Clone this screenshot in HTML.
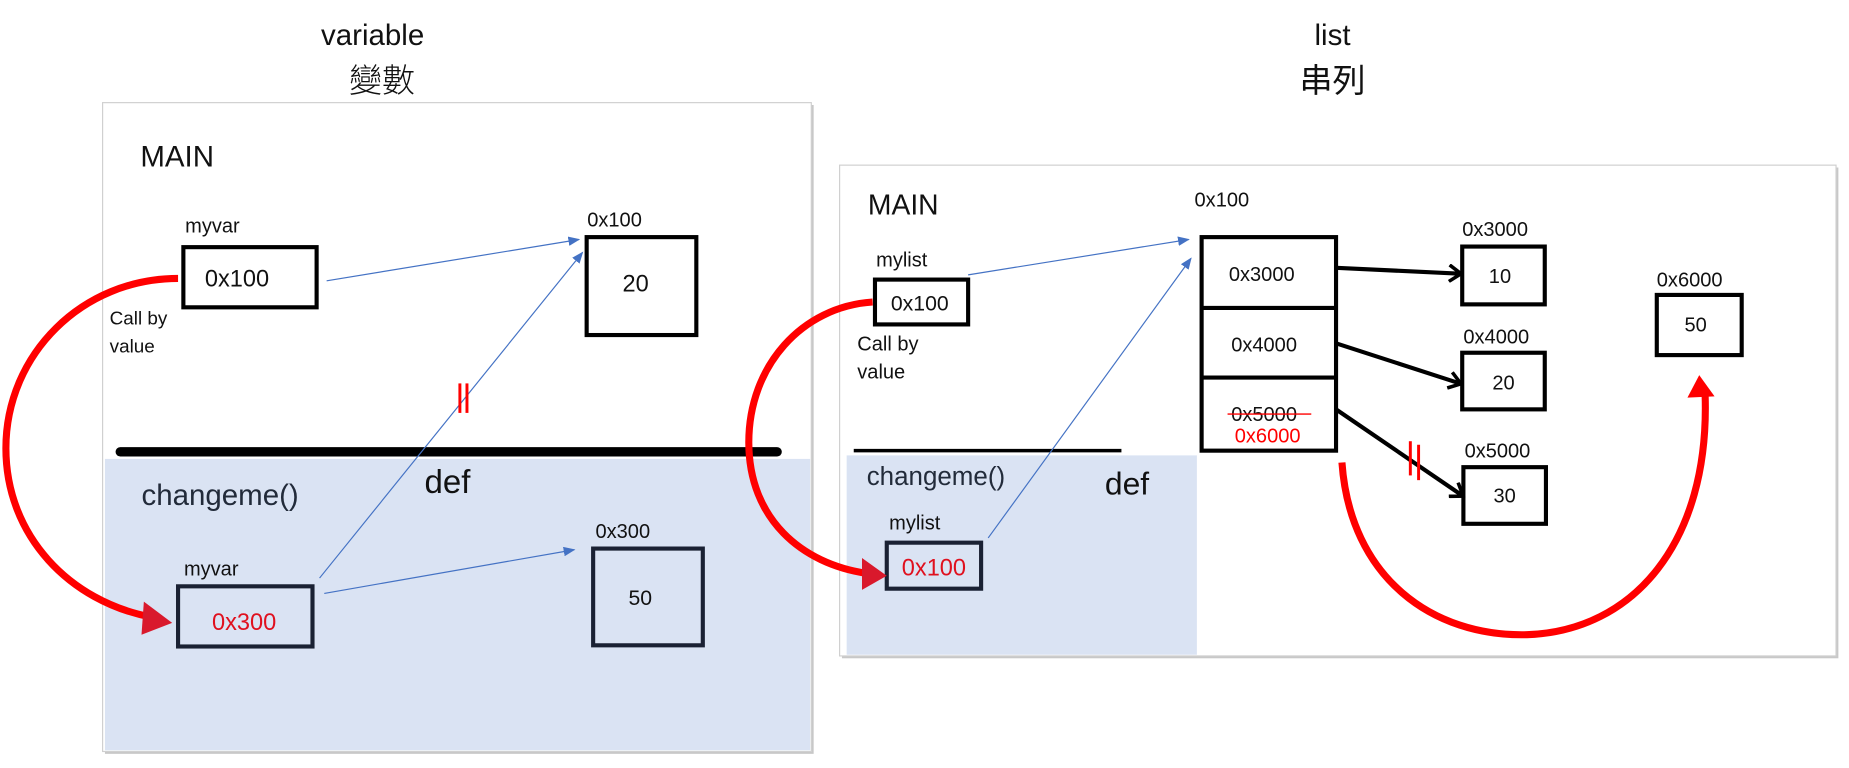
<!DOCTYPE html>
<html><head><meta charset="utf-8"><style>
html,body{margin:0;padding:0;background:#fff;width:1849px;height:768px;overflow:hidden}
svg{display:block}
text{font-family:"Liberation Sans","Noto Sans CJK TC",sans-serif;fill:#111}
</style></head><body>
<svg width="1849" height="768" viewBox="0 0 1568 651" preserveAspectRatio="none">
<defs>
<marker id="ba" markerWidth="10" markerHeight="8" refX="9" refY="4" orient="auto" markerUnits="userSpaceOnUse"><path d="M0,0 L10,4 L0,8 z" fill="#4472c4"/></marker>
<marker id="ka" markerWidth="14" markerHeight="16" refX="11" refY="8" orient="auto" markerUnits="userSpaceOnUse"><path d="M2,1 L12,8 L2,15" fill="none" stroke="#000" stroke-width="3"/></marker>
</defs>
<!-- titles -->
<text x="316" y="38" font-size="25" text-anchor="middle">variable</text>
<text x="324" y="78" font-size="28" text-anchor="middle" font-weight="300">變數</text>
<text x="1130" y="38" font-size="25" text-anchor="middle">list</text>
<text x="1130" y="78" font-size="28" text-anchor="middle">串列</text>

<!-- left panel -->
<g>
<rect x="89" y="89" width="601" height="550" fill="#c8c8c8"/>
<rect x="87" y="87" width="601" height="550" fill="#fff" stroke="#d0d0d0"/>
<rect x="89" y="389" width="598" height="247" fill="#dae3f3"/>
<line x1="102" y1="383" x2="659" y2="383" stroke="#000" stroke-width="8" stroke-linecap="round"/>
<text x="119" y="141" font-size="25">MAIN</text>
<text x="157" y="197" font-size="17">myvar</text>
<rect x="155.5" y="209.5" width="113" height="51" fill="#fff" stroke="#000" stroke-width="3.5"/>
<text x="201" y="243" font-size="20" text-anchor="middle">0x100</text>
<text x="498" y="192" font-size="17">0x100</text>
<rect x="497.5" y="201" width="93" height="83" fill="#fff" stroke="#000" stroke-width="3.5"/>
<text x="539" y="247" font-size="20" text-anchor="middle">20</text>
<line x1="277" y1="238" x2="491" y2="203" stroke="#4472c4" stroke-width="1" marker-end="url(#ba)"/>
<line x1="271" y1="490" x2="494" y2="214" stroke="#4472c4" stroke-width="1" marker-end="url(#ba)"/>
<line x1="390" y1="325" x2="390" y2="350" stroke="#f00" stroke-width="2.5"/>
<line x1="396" y1="325" x2="396" y2="350" stroke="#f00" stroke-width="2.5"/>
<text x="93" y="275" font-size="16">Call by</text>
<text x="93" y="299" font-size="16">value</text>
<text x="120" y="428" font-size="25" fill="#222b3a" style="fill:#222b3a">changeme()</text>
<text x="360" y="418" font-size="28">def</text>
<text x="156" y="488" font-size="17">myvar</text>
<rect x="151" y="497" width="114" height="51" fill="none" stroke="#1a2133" stroke-width="3.5"/>
<text x="207" y="534" font-size="20" text-anchor="middle" style="fill:#e0101e">0x300</text>
<text x="505" y="456" font-size="17">0x300</text>
<rect x="503" y="465" width="93" height="82" fill="none" stroke="#1a2133" stroke-width="3.5"/>
<text x="543" y="513" font-size="18" text-anchor="middle">50</text>
<line x1="275" y1="503" x2="487" y2="466" stroke="#4472c4" stroke-width="1" marker-end="url(#ba)"/>
</g>
<path d="M151,236 C70,236 5,300 5,380 C5,455 60,510 128,523" fill="none" stroke="#f00" stroke-width="6"/>
<path d="M122,510 L146,528 L120,538 z" fill="#d9192c"/>

<!-- right panel -->
<g>
<rect x="714" y="142" width="845" height="416" fill="#c8c8c8"/>
<rect x="712" y="140" width="845" height="416" fill="#fff" stroke="#d0d0d0"/>
<rect x="718" y="386" width="297" height="169" fill="#dae3f3"/>
<line x1="724" y1="382" x2="951" y2="382" stroke="#000" stroke-width="3"/>
<text x="736" y="182" font-size="24">MAIN</text>
<text x="1013" y="175" font-size="17">0x100</text>
<text x="743" y="226" font-size="17">mylist</text>
<rect x="742" y="237" width="79" height="38" fill="#fff" stroke="#000" stroke-width="3.5"/>
<text x="780" y="263" font-size="18" text-anchor="middle">0x100</text>
<text x="727" y="297" font-size="17">Call by</text>
<text x="727" y="321" font-size="17">value</text>
<rect x="1019" y="201" width="114" height="181" fill="#fff" stroke="#000" stroke-width="3.5"/>
<line x1="1019" y1="261" x2="1133" y2="261" stroke="#000" stroke-width="3.5"/>
<line x1="1019" y1="320" x2="1133" y2="320" stroke="#000" stroke-width="3.5"/>
<text x="1070" y="238" font-size="17" text-anchor="middle">0x3000</text>
<text x="1072" y="298" font-size="17" text-anchor="middle">0x4000</text>
<text x="1072" y="357" font-size="17" text-anchor="middle">0x5000</text>
<line x1="1041" y1="351" x2="1112" y2="351" stroke="#f00" stroke-width="1.2"/>
<text x="1075" y="375" font-size="17" text-anchor="middle" style="fill:#f00">0x6000</text>
<text x="1240" y="200" font-size="17">0x3000</text>
<rect x="1240" y="209" width="70" height="49" fill="#fff" stroke="#000" stroke-width="3.5"/>
<text x="1272" y="240" font-size="17" text-anchor="middle">10</text>
<text x="1241" y="291" font-size="17">0x4000</text>
<rect x="1240" y="299" width="70" height="48" fill="#fff" stroke="#000" stroke-width="3.5"/>
<text x="1275" y="330" font-size="17" text-anchor="middle">20</text>
<text x="1242" y="388" font-size="17">0x5000</text>
<rect x="1241" y="396" width="70" height="48" fill="#fff" stroke="#000" stroke-width="3.5"/>
<text x="1276" y="426" font-size="17" text-anchor="middle">30</text>
<text x="1405" y="243" font-size="17">0x6000</text>
<rect x="1405" y="250" width="72" height="51" fill="#fff" stroke="#000" stroke-width="3.5"/>
<text x="1438" y="281" font-size="17" text-anchor="middle">50</text>
<line x1="1133" y1="227" x2="1238" y2="232" stroke="#000" stroke-width="3.5" marker-end="url(#ka)"/>
<line x1="1133" y1="291" x2="1238" y2="325" stroke="#000" stroke-width="3.5" marker-end="url(#ka)"/>
<line x1="1133" y1="347" x2="1240" y2="420" stroke="#000" stroke-width="3.5" marker-end="url(#ka)"/>
<line x1="1196" y1="374" x2="1196" y2="403" stroke="#f00" stroke-width="2.5"/>
<line x1="1203" y1="377" x2="1203" y2="407" stroke="#f00" stroke-width="2.5"/>
<line x1="821" y1="233" x2="1008" y2="203" stroke="#4472c4" stroke-width="1" marker-end="url(#ba)"/>
<line x1="838" y1="456" x2="1010" y2="219" stroke="#4472c4" stroke-width="1" marker-end="url(#ba)"/>
<text x="735" y="411" font-size="22" style="fill:#222b3a">changeme()</text>
<text x="937" y="419" font-size="27">def</text>
<text x="754" y="449" font-size="17">mylist</text>
<rect x="752" y="460" width="80" height="39" fill="none" stroke="#1a2133" stroke-width="3.5"/>
<text x="792" y="488" font-size="20" text-anchor="middle" style="fill:#e0101e">0x100</text>
</g>
<path d="M740,256 C680,260 635,310 635,375 C635,440 680,478 735,486" fill="none" stroke="#f00" stroke-width="6"/>
<path d="M731,473 L752,488 L731,500 z" fill="#d9192c"/>
<path d="M1138,392 C1145,490 1215,540 1295,538 C1385,535 1450,460 1446,335" fill="none" stroke="#f00" stroke-width="6"/>
<path d="M1431,337 L1441,318 L1454,336 z" fill="#f00"/>
</svg>
</body></html>
